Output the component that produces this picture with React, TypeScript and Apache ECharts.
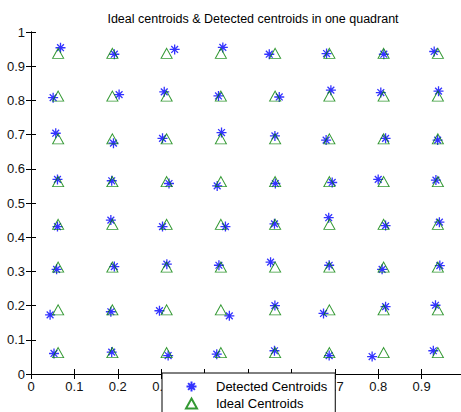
import React, { useEffect, useRef } from "react";
import * as echarts from "echarts";

const titleText = "Ideal centroids & Detected centroids in one quadrant";
const xTickLabels = ["0", "0.1", "0.2", "0.3", "0.4", "0.5", "0.6", "0.7", "0.8", "0.9", "1"];
const yTickLabels = ["0", "0.1", "0.2", "0.3", "0.4", "0.5", "0.6", "0.7", "0.8", "0.9", "1"];

const idealCols = [0.0625, 0.1875, 0.3125, 0.4375, 0.5625, 0.6875, 0.8125, 0.9375];
const idealRows = [0.9375, 0.8125, 0.6875, 0.5625, 0.4375, 0.3125, 0.1875, 0.0625];

const detectedX = [
  0.068, 0.192, 0.331, 0.442, 0.549, 0.681, 0.813, 0.929,
  0.051, 0.203, 0.307, 0.432, 0.572, 0.691, 0.806, 0.939,
  0.057, 0.19, 0.303, 0.439, 0.562, 0.68, 0.817, 0.937,
  0.061, 0.186, 0.318, 0.429, 0.563, 0.694, 0.8, 0.933,
  0.061, 0.184, 0.303, 0.448, 0.561, 0.686, 0.817, 0.941,
  0.059, 0.192, 0.313, 0.433, 0.552, 0.687, 0.809, 0.942,
  0.044, 0.184, 0.296, 0.457, 0.562, 0.674, 0.817, 0.932,
  0.053, 0.186, 0.316, 0.428, 0.561, 0.687, 0.786, 0.927,
];
const detectedY = [
  0.954, 0.935, 0.949, 0.955, 0.935, 0.937, 0.935, 0.943,
  0.808, 0.817, 0.825, 0.813, 0.81, 0.83, 0.823, 0.827,
  0.704, 0.675, 0.689, 0.706, 0.696, 0.684, 0.689, 0.684,
  0.569, 0.565, 0.557, 0.55, 0.557, 0.56, 0.569, 0.567,
  0.431, 0.45, 0.431, 0.431, 0.439, 0.457, 0.434, 0.444,
  0.306, 0.314, 0.321, 0.318, 0.327, 0.318, 0.306, 0.317,
  0.173, 0.182, 0.185, 0.17, 0.2, 0.177, 0.197, 0.201,
  0.06, 0.064, 0.054, 0.058, 0.068, 0.054, 0.051, 0.068,
];

const STAR = "path://M5,0L5,10M0,5L10,5M1.6,1.6L8.4,8.4M1.6,8.4L8.4,1.6";
const FONT = "'Liberation Sans', Arial, sans-serif";

export default function App() {
  const ref = useRef<HTMLDivElement>(null);
  useEffect(() => {
    if (!ref.current) return;
    const chart = echarts.init(ref.current, null, { renderer: "svg" });
    const detected = detectedX.map((x, i) => [x, detectedY[i]]);
    const ideal: number[][] = [];
    idealRows.forEach((y) => idealCols.forEach((x) => ideal.push([x, y])));
    const lbl = (v: number) => xTickLabels[Math.round(v * 10)] ?? "";
    const lblY = (v: number) => yTickLabels[Math.round(v * 10)] ?? "";
    const axisLine = { show: true, lineStyle: { color: "#000", width: 1 } };
    const tick = { show: true, inside: true, length: 5, lineStyle: { color: "#000" } };
    chart.setOption({
      animation: false,
      backgroundColor: "#fff",
      title: {
        text: titleText,
        left: 248,
        top: 7,
        textAlign: "center",
        textStyle: { fontFamily: FONT, fontSize: 12.5, fontWeight: "normal", color: "#000" },
      },
      grid: { left: 31, top: 32, width: 434, height: 342, show: false },
      legend: {
        left: 162,
        top: 373,
        height: 80,
        orient: "vertical",
        selectedMode: false,
        backgroundColor: "#fff",
        borderColor: "#000",
        borderWidth: 1,
        borderRadius: 0,
        padding: [7, 8, 12, 23],
        itemWidth: 11,
        itemHeight: 10,
        itemGap: 4,
        textStyle: { fontFamily: FONT, fontSize: 13, color: "#000", padding: [0, 0, 0, 14] },
        data: ["Detected Centroids", "Ideal Centroids"],
        z: 10,
      },
      xAxis: [
        {
          type: "value",
          min: 0,
          max: 1,
          interval: 0.1,
          position: "bottom",
          splitLine: { show: false },
          axisLine,
          axisTick: tick,
          axisLabel: {
            formatter: lbl,
            margin: 6,
            showMaxLabel: false,
            fontFamily: FONT,
            fontSize: 13,
            color: "#111",
          },
        },
        {
          type: "value",
          min: 0,
          max: 1,
          interval: 0.1,
          position: "top",
          splitLine: { show: false },
          axisLine,
          axisTick: tick,
          axisLabel: { show: false },
        },
      ],
      yAxis: [
        {
          type: "value",
          min: 0,
          max: 1,
          interval: 0.1,
          position: "left",
          splitLine: { show: false },
          axisLine,
          axisTick: tick,
          axisLabel: { formatter: lblY, margin: 6, fontFamily: FONT, fontSize: 13, color: "#111" },
        },
        {
          type: "value",
          min: 0,
          max: 1,
          interval: 0.1,
          position: "right",
          splitLine: { show: false },
          axisLine,
          axisTick: tick,
          axisLabel: { show: false },
        },
      ],
      series: [
        {
          name: "Detected Centroids",
          type: "scatter",
          data: detected,
          symbol: STAR,
          symbolSize: 10,
          itemStyle: { color: "#0000ff", borderColor: "#0000ff", borderWidth: 1.3 },
          emphasis: { disabled: true },
          z: 2,
        },
        {
          name: "Ideal Centroids",
          type: "scatter",
          data: ideal,
          symbol: "triangle",
          symbolSize: [11, 10],
          itemStyle: { color: "rgba(0,0,0,0)", borderColor: "#008000", borderWidth: 1 },
          emphasis: { disabled: true },
          z: 3,
        },
      ],
    });
    return () => chart.dispose();
  }, []);
  return (
    <div style={{ position: "fixed", left: 0, top: 0, width: 461, height: 412, overflow: "hidden", background: "#fff" }}>
      <div ref={ref} style={{ width: 470, height: 412 }} />
    </div>
  );
}
